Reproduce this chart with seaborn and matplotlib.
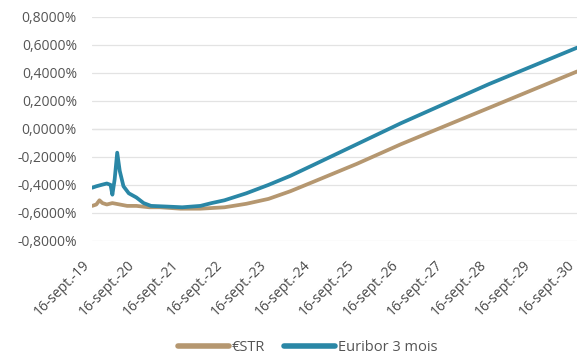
import matplotlib
matplotlib.use("Agg")
import matplotlib.pyplot as plt
import matplotlib.ticker as mticker
import matplotlib.transforms as mtransforms
from matplotlib.lines import Line2D
import seaborn as sns
import pandas as pd

estr_dates = ["2019-09-16", "2019-10-20", "2019-11-15", "2019-12-10", "2020-01-15",
              "2020-03-01", "2020-05-01", "2020-07-01", "2020-09-16", "2021-01-01",
              "2021-04-01", "2021-09-16", "2022-03-01", "2022-09-16", "2023-03-16",
              "2023-09-16", "2024-03-16", "2024-09-16", "2025-09-16", "2026-09-16",
              "2027-09-16", "2028-09-16", "2029-09-16", "2030-09-16"]
estr_vals = [-0.55, -0.54, -0.51, -0.53, -0.54,
             -0.53, -0.54, -0.55, -0.55, -0.56,
             -0.56, -0.57, -0.57, -0.56, -0.535,
             -0.50, -0.445, -0.38, -0.25, -0.11,
             0.02, 0.15, 0.28, 0.41]

eur_dates = ["2019-09-16", "2019-10-20", "2019-12-01", "2020-01-15", "2020-02-15",
             "2020-03-01", "2020-03-20", "2020-04-10", "2020-05-01", "2020-06-01",
             "2020-07-15", "2020-09-16", "2020-11-15", "2021-01-15", "2021-06-01",
             "2021-10-01", "2022-03-01", "2022-06-01", "2022-09-16", "2023-03-16",
             "2023-09-16", "2024-03-16", "2024-09-16", "2025-09-16", "2026-09-16",
             "2027-09-16", "2028-09-16", "2029-09-16", "2030-09-16"]
eur_vals = [-0.42, -0.41, -0.40, -0.39, -0.40,
            -0.47, -0.36, -0.17, -0.30, -0.41,
            -0.46, -0.49, -0.53, -0.55, -0.555,
            -0.56, -0.55, -0.53, -0.51, -0.46,
            -0.40, -0.335, -0.26, -0.11, 0.04,
            0.18, 0.32, 0.45, 0.58]

series_names = ["€STR", "Euribor 3 mois"]
colors = ["#b59770", "#2a87a6"]
yticks = [-0.8, -0.6, -0.4, -0.2, 0.0, 0.2, 0.4, 0.6, 0.8]
tick_years = list(range(2019, 2031))

df = pd.concat([
    pd.DataFrame({"date": pd.to_datetime(estr_dates), "val": estr_vals, "serie": series_names[0]}),
    pd.DataFrame({"date": pd.to_datetime(eur_dates), "val": eur_vals, "serie": series_names[1]}),
])

sns.set_theme(style="white")
plt.rcParams["font.family"] = ["Open Sans", "DejaVu Sans"]

fig = plt.figure(figsize=(5.8, 3.59), dpi=100)
ax = fig.add_axes([0.159, 0.329, 0.836, 0.624])

sns.lineplot(data=df, x="date", y="val", hue="serie", palette=colors,
             hue_order=series_names, linewidth=2.7, ax=ax, legend=False)

ax.set_ylim(-0.8, 0.8)
ax.set_yticks(yticks)
ax.yaxis.set_major_formatter(mticker.FuncFormatter(
    lambda v, p: ("%.4f%%" % v).replace(".", ",").replace("-0,0000", "0,0000")))
xt = pd.to_datetime([f"{y}-09-16" for y in tick_years])
ax.set_xlim(xt[0], xt[-1])
ax.set_xticks(xt)
ax.grid(axis="y", color="#e3e3e3", linewidth=0.9)
ax.axhline(0, color="#dcdcdc", linewidth=0.9, zorder=0)
for s in ax.spines.values():
    s.set_visible(False)
ax.tick_params(axis="y", length=0, labelsize=10, colors="#555555", pad=11)
ax.tick_params(axis="x", length=0, labelsize=10, colors="#4a4a4a", pad=12)
ax.set_xticklabels([f"16-sept.-{y % 100:02d}" for y in tick_years],
                   rotation=45, ha="right", va="top", rotation_mode="anchor")
offset = mtransforms.ScaledTranslation(-7 / 72, 0, fig.dpi_scale_trans)
for tick in ax.xaxis.get_major_ticks():
    tick.label1.set_transform(tick.label1.get_transform() + offset)
ax.set_xlabel("")
ax.set_ylabel("")

handles = [Line2D([], [], color=c, linewidth=4) for c in colors]
fig.legend(handles, series_names, loc="center", bbox_to_anchor=(0.531, 0.031), ncol=2,
           frameon=False, fontsize=10.5, handlelength=3.5, handletextpad=0.2,
           columnspacing=1.3, labelcolor="#555555")

fig.savefig("out.png", dpi=100)
